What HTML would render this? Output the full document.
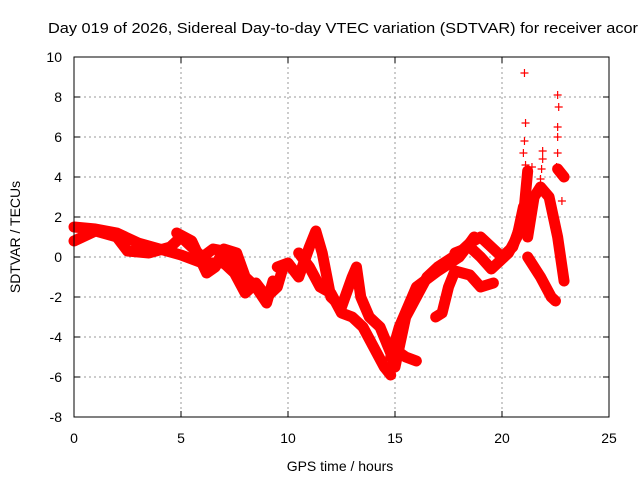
<!DOCTYPE html>
<html><head><meta charset="utf-8"><style>
body{margin:0;background:#fff}
svg{display:block;font-family:"Liberation Sans",sans-serif}
</style></head><body>
<svg id="c" width="640" height="480" viewBox="0 0 640 480">
<text x="48" y="33" font-size="15" textLength="590" lengthAdjust="spacingAndGlyphs" fill="#000">Day 019 of 2026, Sidereal Day-to-day VTEC variation (SDTVAR) for receiver acor</text>
<g id="grid"></g>
<g id="ticks"></g>
<g id="marks"></g>
<rect x="74" y="57" width="535" height="360" fill="none" stroke="#000" stroke-width="1"/>
<text x="340" y="471" font-size="14" text-anchor="middle">GPS time / hours</text>
<text transform="translate(20,237) rotate(-90)" font-size="14" text-anchor="middle">SDTVAR / TECUs</text>
</svg>
<script>
const xTicks=[0,5,10,15,20,25];
const yTicks=[10,8,6,4,2,0,-2,-4,-6,-8];
const arc1=[[0,1.5],[1,1.4],[2,1.2],[3,0.7],[4,0.4],[5,0.1],[6,-0.3],[7,-0.3],[7.5,-0.8],[8,-1.8],[8.5,-1.3],[9,-2],[9.5,-1.5],[9.8,-0.4]];
const arc2=[[0,0.8],[1,1.3],[2,1],[2.5,0.3],[3.5,0.2],[4.5,0.5],[5,1],[5.5,0.5],[6,0],[6.5,0.4],[7,0.3],[7.5,-0.5]];
const arc3=[[4.8,1.2],[5.5,0.8],[6.2,-0.8],[6.6,-0.5],[7,0.4],[7.6,0.2],[8,-1],[8.5,-1.5],[9,-2.3],[9.3,-1.2]];
const arc4=[[9.5,-0.5],[10,-0.3],[10.5,-1],[11,0.5],[11.3,1.3],[11.6,0.2],[12,-2],[12.5,-2.5],[13,-1],[13.2,-0.5],[13.4,-2],[13.8,-3],[14.3,-3.5],[14.8,-4.8],[15,-5.5],[15.3,-4],[15.5,-3],[16,-2],[16.5,-1],[17,-0.5],[18,0.2],[18.5,0.7],[19,1],[19.5,0.5],[20,0],[20.5,0.5],[21,2],[21.2,4.3]];
const arc5=[[10.5,0.2],[11,-0.5],[11.5,-1.5],[12,-1.8],[12.5,-2.8],[13,-3],[13.5,-3.5],[14,-4.5],[14.5,-5.5],[14.8,-5.9]];
const arc6=[[15.1,-4.7],[15.5,-5],[16,-5.2]];
const arc7=[[14.8,-5],[15.2,-3.5],[16,-1.5],[17,-0.7],[18,0],[18.5,0.7],[18.7,1]];
const arc8=[[16.9,-3],[17.2,-2.8],[17.5,-1.5],[17.8,-0.7],[18.5,-0.9],[19,-1.5],[19.6,-1.3]];
const arc9=[[17.8,0.2],[18.5,0.5],[19,0],[19.5,-0.6],[20.3,0.2],[20.7,1],[21,2.5]];
const arc10=[[21.2,1],[21.5,3],[21.8,3.5],[22.2,3],[22.6,1],[22.9,-1.2]];
const arc11=[[21.2,0],[21.8,-1],[22.3,-2],[22.5,-2.2]];
const arc12=[[22.6,4.4],[22.9,4.0]];
const spikes=[[21.05,9.2],[21.1,6.7],[21.05,5.8],[21.0,5.2],[21.1,4.6],[21.9,4.9],[21.9,5.3],[21.85,4.4],[22.6,8.1],[22.65,7.5],[22.6,6.5],[22.6,6.0],[22.6,5.2],[22.55,4.5],[22.8,2.8],[21.4,4.5],[21.8,3.9]];
const arcs=[arc1,arc2,arc3,arc4,arc5,arc6,arc7,arc8,arc9,arc10,arc11,arc12];
const X=t=>74+t*535/25, Y=v=>257-v*20;
const NS='http://www.w3.org/2000/svg';
const grid=document.getElementById('grid'),ticks=document.getElementById('ticks'),marks=document.getElementById('marks');
function mk(p,tag,a){const e=document.createElementNS(NS,tag);for(const k in a)e.setAttribute(k,a[k]);p.appendChild(e);return e;}
xTicks.forEach(t=>{const x=X(t);
 if(t>0&&t<25){const g=mk(grid,'line',{x1:x,x2:x,y1:57,y2:417,stroke:'#999','stroke-dasharray':'2,3'});
 
 }
 mk(ticks,'line',{x1:x,x2:x,y1:417,y2:411,stroke:'#000'});mk(ticks,'line',{x1:x,x2:x,y1:57,y2:63,stroke:'#000'});
 const l=mk(ticks,'text',{x:x,y:443,'font-size':14,'text-anchor':'middle'});l.textContent=t;
 
 });
yTicks.forEach(v=>{const y=Y(v);
 if(v<10&&v>-8){const g=mk(grid,'line',{x1:74,x2:609,y1:y,y2:y,stroke:'#999','stroke-dasharray':'2,3'});
 
 }
 mk(ticks,'line',{x1:74,x2:80,y1:y,y2:y,stroke:'#000'});mk(ticks,'line',{x1:609,x2:603,y1:y,y2:y,stroke:'#000'});
 const l=mk(ticks,'text',{x:62,y:y+5,'font-size':14,'text-anchor':'end'});l.textContent=v;
 
 });
arcs.forEach(a=>{const p=mk(marks,'polyline',{points:a.map(d=>X(d[0])+','+Y(d[1])).join(' '),fill:'none',stroke:'#f00','stroke-width':11,'stroke-linejoin':'round','stroke-linecap':'round'});
 
 });
spikes.forEach(d=>{const x=X(d[0]),y=Y(d[1]);
 const p=mk(marks,'path',{d:`M${x-4},${y}H${x+4}M${x},${y-4}V${y+4}`,stroke:'#f00','stroke-width':1.2});
 
 });
</script>
</body></html>
